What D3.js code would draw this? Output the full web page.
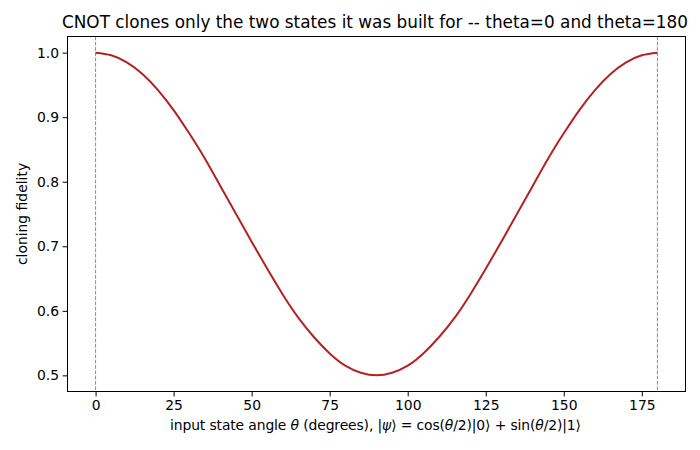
<!DOCTYPE html>
<html><head><meta charset="utf-8">
<script src="https://cdn.jsdelivr.net/npm/d3@7"></script>
<style>body{margin:0;background:#fff}svg{display:block}text{font-family:"DejaVu Sans",sans-serif;fill:#000}</style>
</head><body>
<svg id="c" width="700" height="450"></svg>
<script>
const thetaDeg = [0,5,10,15,20,25,30,35,40,45,50,55,60,65,70,75,80,85,90,95,100,105,110,115,120,125,130,135,140,145,150,155,160,165,170,175,180];
const fidelity = [1.000,0.996,0.985,0.967,0.942,0.911,0.875,0.836,0.793,0.750,0.707,0.665,0.625,0.589,0.559,0.534,0.515,0.504,0.500,0.504,0.515,0.534,0.559,0.589,0.625,0.665,0.707,0.750,0.793,0.836,0.875,0.911,0.942,0.967,0.985,0.996,1.000];
const xTicks = [0,25,50,75,100,125,150,175];
const yTicks = [0.5,0.6,0.7,0.8,0.9,1.0];
const yTickLabels = ["0.5","0.6","0.7","0.8","0.9","1.0"];
const markedAngles = [0,180];

const L=67.5,R=685.5,T=36.5,B=391.5;
const svg=d3.select("#c");
const x=d3.scaleLinear().domain([-9,189]).range([L,R]);
const y=d3.scaleLinear().domain([0.475,1.025]).range([B,T]);

svg.selectAll("line.mark").data(markedAngles).enter().append("line")
  .attr("x1",d=>x(d)).attr("x2",d=>x(d)).attr("y1",T).attr("y2",B)
  .attr("stroke","#8c8c8c").attr("stroke-width",1).attr("stroke-dasharray","3.7,1.6");

const line=d3.line().x((d,i)=>x(thetaDeg[i])).y(d=>y(d)).curve(d3.curveNatural);
svg.append("path").datum(fidelity).attr("d",line).attr("fill","none")
  .attr("stroke","#b22222").attr("stroke-width",2);

const fs="13.9px";
const xa=svg.append("g").attr("transform",`translate(0,${B})`)
  .call(d3.axisBottom(x).tickValues(xTicks).tickSize(4.9).tickPadding(3.5).tickFormat(d3.format("d")));
const ya=svg.append("g").attr("transform",`translate(${L},0)`)
  .call(d3.axisLeft(y).tickValues(yTicks).tickSize(4.9).tickPadding(3.5).tickFormat((d,i)=>yTickLabels[i]));
[xa,ya].forEach(g=>{g.select(".domain").remove();g.selectAll("line").attr("stroke","#000").attr("stroke-width",1);
  g.selectAll("text").attr("font-size",fs).attr("font-family","DejaVu Sans").attr("fill","#000");});

svg.append("rect").attr("x",L).attr("y",T).attr("width",R-L).attr("height",B-T)
  .attr("fill","none").attr("stroke","#000").attr("stroke-width",1);

svg.append("text").attr("x",375).attr("y",27.5).attr("text-anchor","middle").attr("font-size","16.9px")
  .attr("textLength",626).attr("lengthAdjust","spacingAndGlyphs")
  .text("CNOT clones only the two states it was built for -- theta=0 and theta=180");

const xl=svg.append("text").attr("x",375.5).attr("y",430).attr("text-anchor","middle").attr("font-size",fs)
  .attr("textLength",411).attr("lengthAdjust","spacing");
const parts=[["input state angle ",0],["θ",1],[" (degrees), |",0],["ψ",1],["⟩ = cos(",0],["θ",1],["/2)|0⟩ + sin(",0],["θ",1],["/2)|1⟩",0]];
parts.forEach(p=>xl.append("tspan").attr("font-style",p[1]?"italic":"normal").text(p[0]));

svg.append("text").attr("transform",`translate(26.5,${(T+B)/2}) rotate(-90)`).attr("text-anchor","middle")
  .attr("font-size",fs).text("cloning fidelity");
</script>
</body></html>
